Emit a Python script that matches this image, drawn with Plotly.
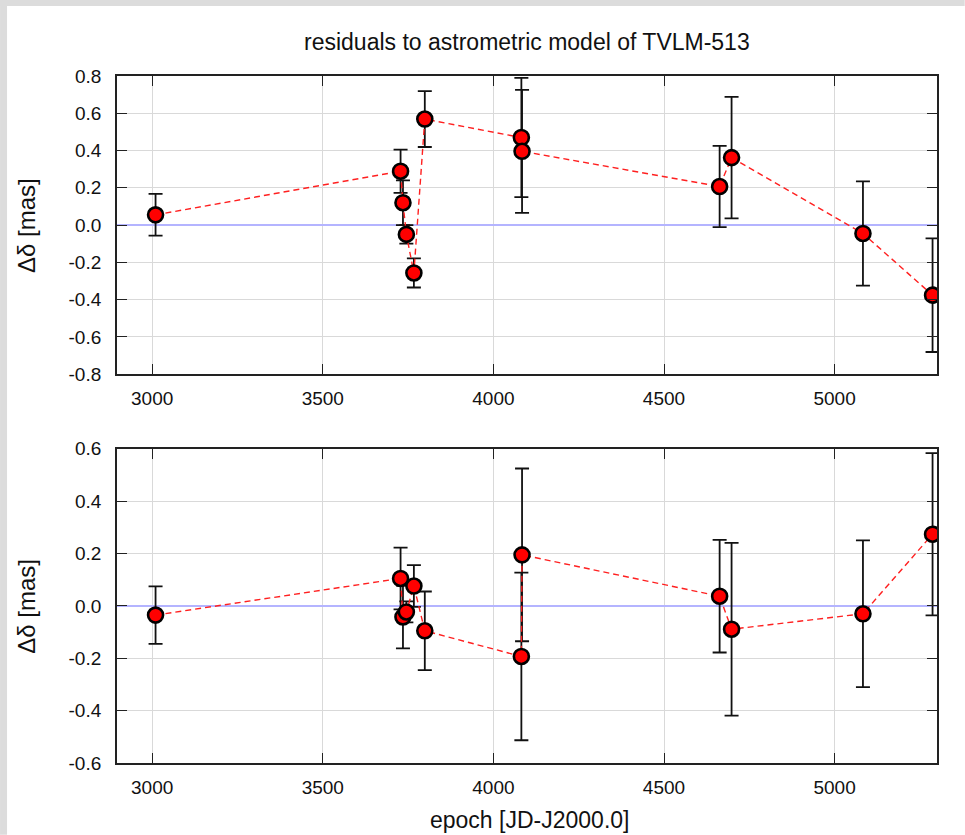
import plotly.graph_objects as go

# ---------------- data ----------------
epoch = [3010, 3728, 3735, 3745, 3767, 3799, 4082, 4084, 4663, 4698, 5083, 5287]

dd_top = [0.055, 0.289, 0.120, -0.050, -0.257, 0.569, 0.470, 0.396, 0.207, 0.362, -0.045, -0.376]
err_top = [0.112, 0.116, 0.120, 0.050, 0.078, 0.150, 0.320, 0.330, 0.218, 0.326, 0.280, 0.305]

dd_bot = [-0.035, 0.105, -0.042, -0.023, 0.076, -0.095, -0.193, 0.195, 0.037, -0.089, -0.030, 0.274]
err_bot = [0.110, 0.118, 0.120, 0.040, 0.080, 0.150, 0.320, 0.330, 0.215, 0.330, 0.280, 0.310]

xtick_vals = [3000, 3500, 4000, 4500, 5000]
xtick_text = ["3000", "3500", "4000", "4500", "5000"]
ytop_vals = [0.8, 0.6, 0.4, 0.2, 0.0, -0.2, -0.4, -0.6, -0.8]
ytop_text = ["0.8", "0.6", "0.4", "0.2", "0.0", "-0.2", "-0.4", "-0.6", "-0.8"]
ybot_vals = [0.6, 0.4, 0.2, 0.0, -0.2, -0.4, -0.6]
ybot_text = ["0.6", "0.4", "0.2", "0.0", "-0.2", "-0.4", "-0.6"]

title_text = "residuals to astrometric model of TVLM-513"
ylabel = "Δδ [mas]"
xlabel = "epoch [JD-J2000.0]"

# ---------------- geometry ----------------
W, H = 965, 835
L, R, T, B = 117, 937.3, 76, 763.3
pw, ph = R - L, B - T


def px(x):
    return (x - L) / pw


def py(y):
    return (B - y) / ph


FONT = "Liberation Sans, Arial, Helvetica, sans-serif"
TICKFONT = dict(family=FONT, size=19, color="#111")

fig = go.Figure()


def add_series(xa, ya, x, y, e):
    fig.add_trace(go.Scatter(
        x=x, y=y, xaxis=xa, yaxis=ya, mode="lines+markers",
        line=dict(color="#ff2020", width=1.4, dash="6px,4px"),
        marker=dict(size=15, color="#ff0000", line=dict(color="black", width=2.6)),
        error_y=dict(type="data", array=e, visible=True, color="#111",
                     thickness=1.8, width=7),
        showlegend=False, hoverinfo="x+y",
    ))


add_series("x", "y", epoch, dd_top, err_top)
add_series("x2", "y2", epoch, dd_bot, err_bot)

xr = [2897, 5300]
common_x = dict(range=xr, tickvals=xtick_vals, ticktext=xtick_text,
                showgrid=True, gridcolor="#d9d9d9", gridwidth=1.2,
                showline=True, linecolor="#222", linewidth=1.8, mirror="allticks",
                ticks="inside", ticklen=10, tickwidth=1.3, tickcolor="#222",
                tickfont=TICKFONT, zeroline=False, ticklabelstandoff=6)
common_y = dict(showgrid=True, gridcolor="#d9d9d9", gridwidth=1.2,
                showline=True, linecolor="#222", linewidth=1.8, mirror="allticks",
                ticks="inside", ticklen=10, tickwidth=1.3, tickcolor="#222",
                tickfont=TICKFONT, zeroline=True, zerolinecolor="#b4b4ff",
                zerolinewidth=1.5, ticklabelstandoff=10)

top_dom = [py(374.3), 1.0]
bot_dom = [0.0, py(449.0)]

fig.update_layout(
    width=W, height=H,
    margin=dict(l=L, r=W - R, t=T, b=H - B, pad=0),
    paper_bgcolor="white", plot_bgcolor="white",
    xaxis=dict(domain=[0, 1], anchor="y", **common_x),
    yaxis=dict(domain=top_dom, anchor="x", range=[-0.8, 0.8],
               tickvals=ytop_vals, ticktext=ytop_text, **common_y),
    xaxis2=dict(domain=[0, 1], anchor="y2", **common_x),
    yaxis2=dict(domain=bot_dom, anchor="x2", range=[-0.6, 0.6],
                tickvals=ybot_vals, ticktext=ybot_text, **common_y),
)

shapes = [
    # grey frame (top and left)
    dict(type="rect", xref="paper", yref="paper", x0=px(0), x1=px(W), y0=py(6), y1=py(0),
         fillcolor="#dcdcdc", line=dict(width=0), layer="below"),
    dict(type="rect", xref="paper", yref="paper", x0=px(0), x1=px(7), y0=py(H), y1=py(0),
         fillcolor="#dcdcdc", line=dict(width=0), layer="below"),
]
fig.update_layout(shapes=shapes)

ann = [
    dict(text=title_text, xref="paper", yref="paper", x=px(527), y=py(42),
         showarrow=False, font=dict(family=FONT, size=23, color="#111"),
         xanchor="center", yanchor="middle"),
    dict(text=ylabel, xref="paper", yref="paper", x=px(27), y=py(226),
         showarrow=False, textangle=-90, font=dict(family=FONT, size=24, color="#111"),
         xanchor="center", yanchor="middle"),
    dict(text=ylabel, xref="paper", yref="paper", x=px(27), y=py(607),
         showarrow=False, textangle=-90, font=dict(family=FONT, size=24, color="#111"),
         xanchor="center", yanchor="middle"),
    dict(text=xlabel, xref="paper", yref="paper", x=px(530), y=py(820),
         showarrow=False, font=dict(family=FONT, size=23, color="#111"),
         xanchor="center", yanchor="middle"),
]
fig.update_layout(annotations=ann)

fig.write_html("out.html")
